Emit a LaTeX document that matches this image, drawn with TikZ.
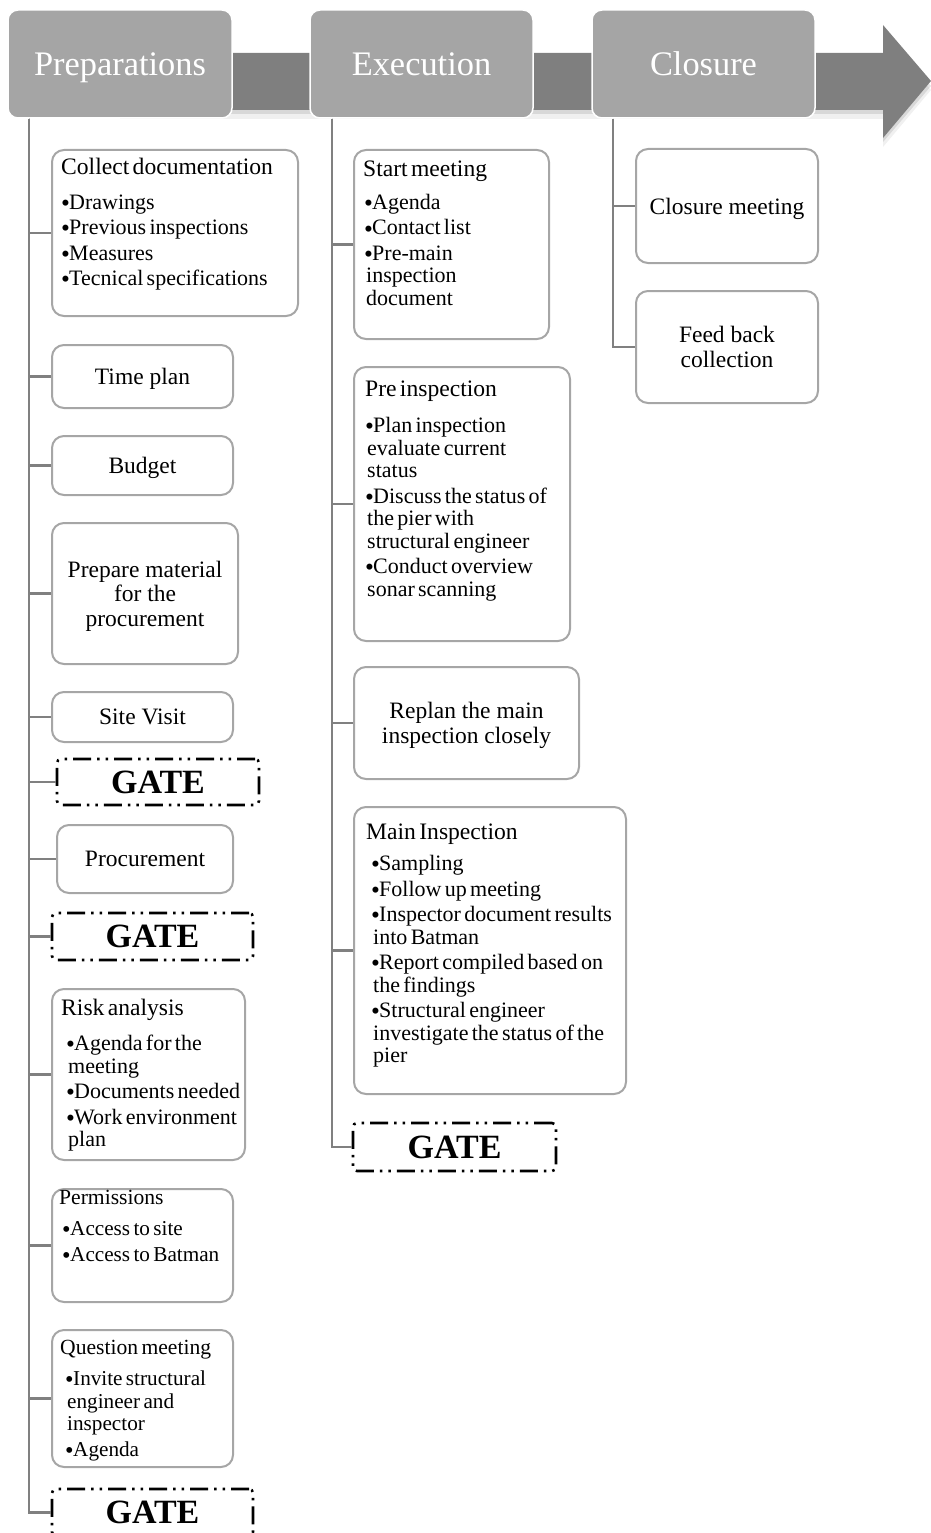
\documentclass[tikz,border=0pt]{standalone}
\usepackage{fontspec}
\setmainfont{Liberation Serif}
\usetikzlibrary{calc}

\definecolor{hdrgray}{HTML}{A5A5A5}
\definecolor{bandgray}{HTML}{7F7F7F}
\definecolor{cardline}{HTML}{A6A6A6}
\definecolor{conngray}{HTML}{808080}

\newcommand\hdrfont{\fontsize{34.4}{38}\selectfont}
\newcommand\cfont{\fontsize{23.5}{24.5}\selectfont}
\newcommand\ttlfont{\fontsize{23.6}{24}\selectfont}
\newcommand\smttlfont{\fontsize{21.6}{22.5}\selectfont}
\newcommand\itmfont{\fontsize{22}{22.5}\selectfont}
\newcommand\smitmfont{\fontsize{21.2}{22.5}\selectfont}
\newcommand\gatefont{\fontsize{34}{36}\selectfont\bfseries}

% bullet item with hanging indent; \bind is the bullet's left offset
\newlength\bind
\newcommand\bitem[1]{\par\hangindent=\dimexpr\bind+2pt\relax\hangafter=1
  \noindent\hspace*{\bind}\makebox[8pt][l]{\raisebox{-2pt}{\scalebox{1.15}{\textbullet}}}#1\par}
\newcommand\listsetup[1]{\setlength\parskip{3pt}\setlength\bind{#1}}

\begin{document}
\begin{tikzpicture}[x=1pt,y=-1pt,
  phase/.style={draw=white, line width=1.5pt, fill=hdrgray, rounded corners=10pt,
    text=white, font=\hdrfont, inner sep=0pt, text depth=0pt},
  card/.style={draw=cardline, line width=2pt, fill=white, rounded corners=12pt,
    inner sep=0pt, align=center, font=\cfont, text depth=0pt},
  gatebox/.style={draw=black, line width=2.6pt, rounded corners=4pt, fill=white,
    dash pattern=on 18pt off 6pt on 2.5pt off 6pt on 2.5pt off 6pt,
    inner sep=0pt, font=\gatefont, text depth=0pt},
  listtxt/.style={anchor=base west, inner sep=0pt, text width=250pt, align=left},
  conn/.style={draw=conngray, line width=2.4pt}]

\useasboundingbox (0,0) rectangle (931,1533);
\clip (0,0) rectangle (931,1533);

% timeline band with arrow head and its soft shadow
\fill[black, opacity=0.06] (120,62) -- (883,62) -- (883,34) -- (931,90) -- (883,147) -- (883,119) -- (120,119) -- cycle;
\fill[black, opacity=0.10] (120,58) -- (883,58) -- (883,30) -- (931,86) -- (883,142) -- (883,114) -- (120,114) -- cycle;
\fill[bandgray] (120,53) -- (883,53) -- (883,25) -- (931,81) -- (883,138) -- (883,110) -- (120,110) -- cycle;

% phase headers
\node[phase, minimum width=224pt, minimum height=108pt] (H1) at (120,64) {Preparations};
\node[phase, minimum width=223pt, minimum height=108pt] (H2) at (421.5,64) {Execution};
\node[phase, minimum width=223pt, minimum height=108pt] (H3) at (703.5,64) {Closure};

% Preparations column
\node[card, minimum width=246pt, minimum height=166pt] (collect) at (175,233) {};
\node[card, minimum width=181pt, minimum height=63pt] (time) at (142.5,376.5) {Time plan};
\node[card, minimum width=181pt, minimum height=59pt] (budget) at (142.5,465.5) {Budget};
\node[card, minimum width=186pt, minimum height=141pt] (prep) at (145,593.5) {Prepare material\\for the\\procurement};
\node[card, minimum width=181pt, minimum height=50pt] (site) at (142.5,717) {Site Visit};
\node[gatebox, minimum width=202pt, minimum height=46pt] (gate1) at (158,782) {GATE};
\node[card, minimum width=176pt, minimum height=68pt] (proc) at (145,859) {Procurement};
\node[gatebox, minimum width=201pt, minimum height=47pt] (gate2) at (152.5,936.5) {GATE};
\node[card, minimum width=193pt, minimum height=171pt] (risk) at (148.5,1074.5) {};
\node[card, minimum width=181pt, minimum height=113pt] (perm) at (142.5,1245.5) {};
\node[card, minimum width=181pt, minimum height=137pt] (quest) at (142.5,1398.5) {};
\node[gatebox, minimum width=201pt, minimum height=47pt] (gate3) at (152.5,1512.5) {GATE};

% Execution column
\node[card, minimum width=195pt, minimum height=189pt] (start) at (451.5,244.5) {};
\node[card, minimum width=216pt, minimum height=274pt] (pre) at (462,504) {};
\node[card, minimum width=225pt, minimum height=112pt] (replan) at (466.5,723) {Replan the main\\inspection closely};
\node[card, minimum width=272pt, minimum height=287pt] (main) at (490,950.5) {};
\node[gatebox, minimum width=203pt, minimum height=48pt] (gate4) at (454.5,1147) {GATE};

% Closure column
\node[card, minimum width=182pt, minimum height=114pt] (clmeet) at (727,206) {Closure meeting};
\node[card, minimum width=182pt, minimum height=112pt] (feed) at (727,347) {Feed back\\collection};

% list texts
\node[listtxt] (collect-t) at (61,175) {\listsetup{0pt}\ttlfont Collect documentation\par\vspace{9pt}\itmfont
  \bitem{Drawings}\bitem{Previous inspections}\bitem{Measures}\bitem{Tecnical specifications}};
\node[listtxt] (risk-t) at (61,1015) {\listsetup{5pt}\ttlfont Risk analysis\par\vspace{10pt}\itmfont
  \bitem{Agenda for the\newline meeting}\bitem{Documents needed}\bitem{Work environment\newline plan}};
\node[listtxt] (perm-t) at (59,1204) {\listsetup{3pt}\smttlfont Permissions\par\vspace{6pt}\smitmfont
  \bitem{Access to site}\bitem{Access to Batman}};
\node[listtxt] (quest-t) at (60,1354) {\listsetup{5pt}\smttlfont Question meeting\par\vspace{6pt}\smitmfont
  \bitem{Invite structural\newline engineer and\newline inspector}\bitem{Agenda}};
\node[listtxt] (start-t) at (363,177) {\listsetup{1pt}\ttlfont Start meeting\par\vspace{7pt}\itmfont
  \bitem{Agenda}\bitem{Contact list}\bitem{Pre-main\newline inspection\newline document}};
\node[listtxt] (pre-t) at (365,396) {\listsetup{0pt}\ttlfont Pre inspection\par\vspace{11pt}\itmfont
  \bitem{Plan inspection\newline evaluate current\newline status}
  \bitem{Discuss the status of\newline the pier with\newline structural engineer}
  \bitem{Conduct overview\newline sonar scanning}};
\node[listtxt, text width=262pt] (main-t) at (366,839) {\listsetup{5pt}\ttlfont Main Inspection\par\vspace{6pt}\itmfont
  \bitem{Sampling}\bitem{Follow up meeting}
  \bitem{Inspector document results\newline into Batman}
  \bitem{Report compiled based on\newline the findings}
  \bitem{Structural engineer\newline investigate the status of the\newline pier}};

% connectors from each phase header down its column
\foreach \b in {collect,time,budget,prep,site,gate1,proc,gate2,risk,perm,quest,gate3}
  \draw[conn] ([xshift=22pt]H1.south west) |- (\b.west);
\foreach \b in {start,pre,replan,main,gate4}
  \draw[conn] ([xshift=22.5pt]H2.south west) |- (\b.west);
\foreach \b in {clmeet,feed}
  \draw[conn] ([xshift=22pt]H3.south west) |- (\b.west);

\end{tikzpicture}
\end{document}
